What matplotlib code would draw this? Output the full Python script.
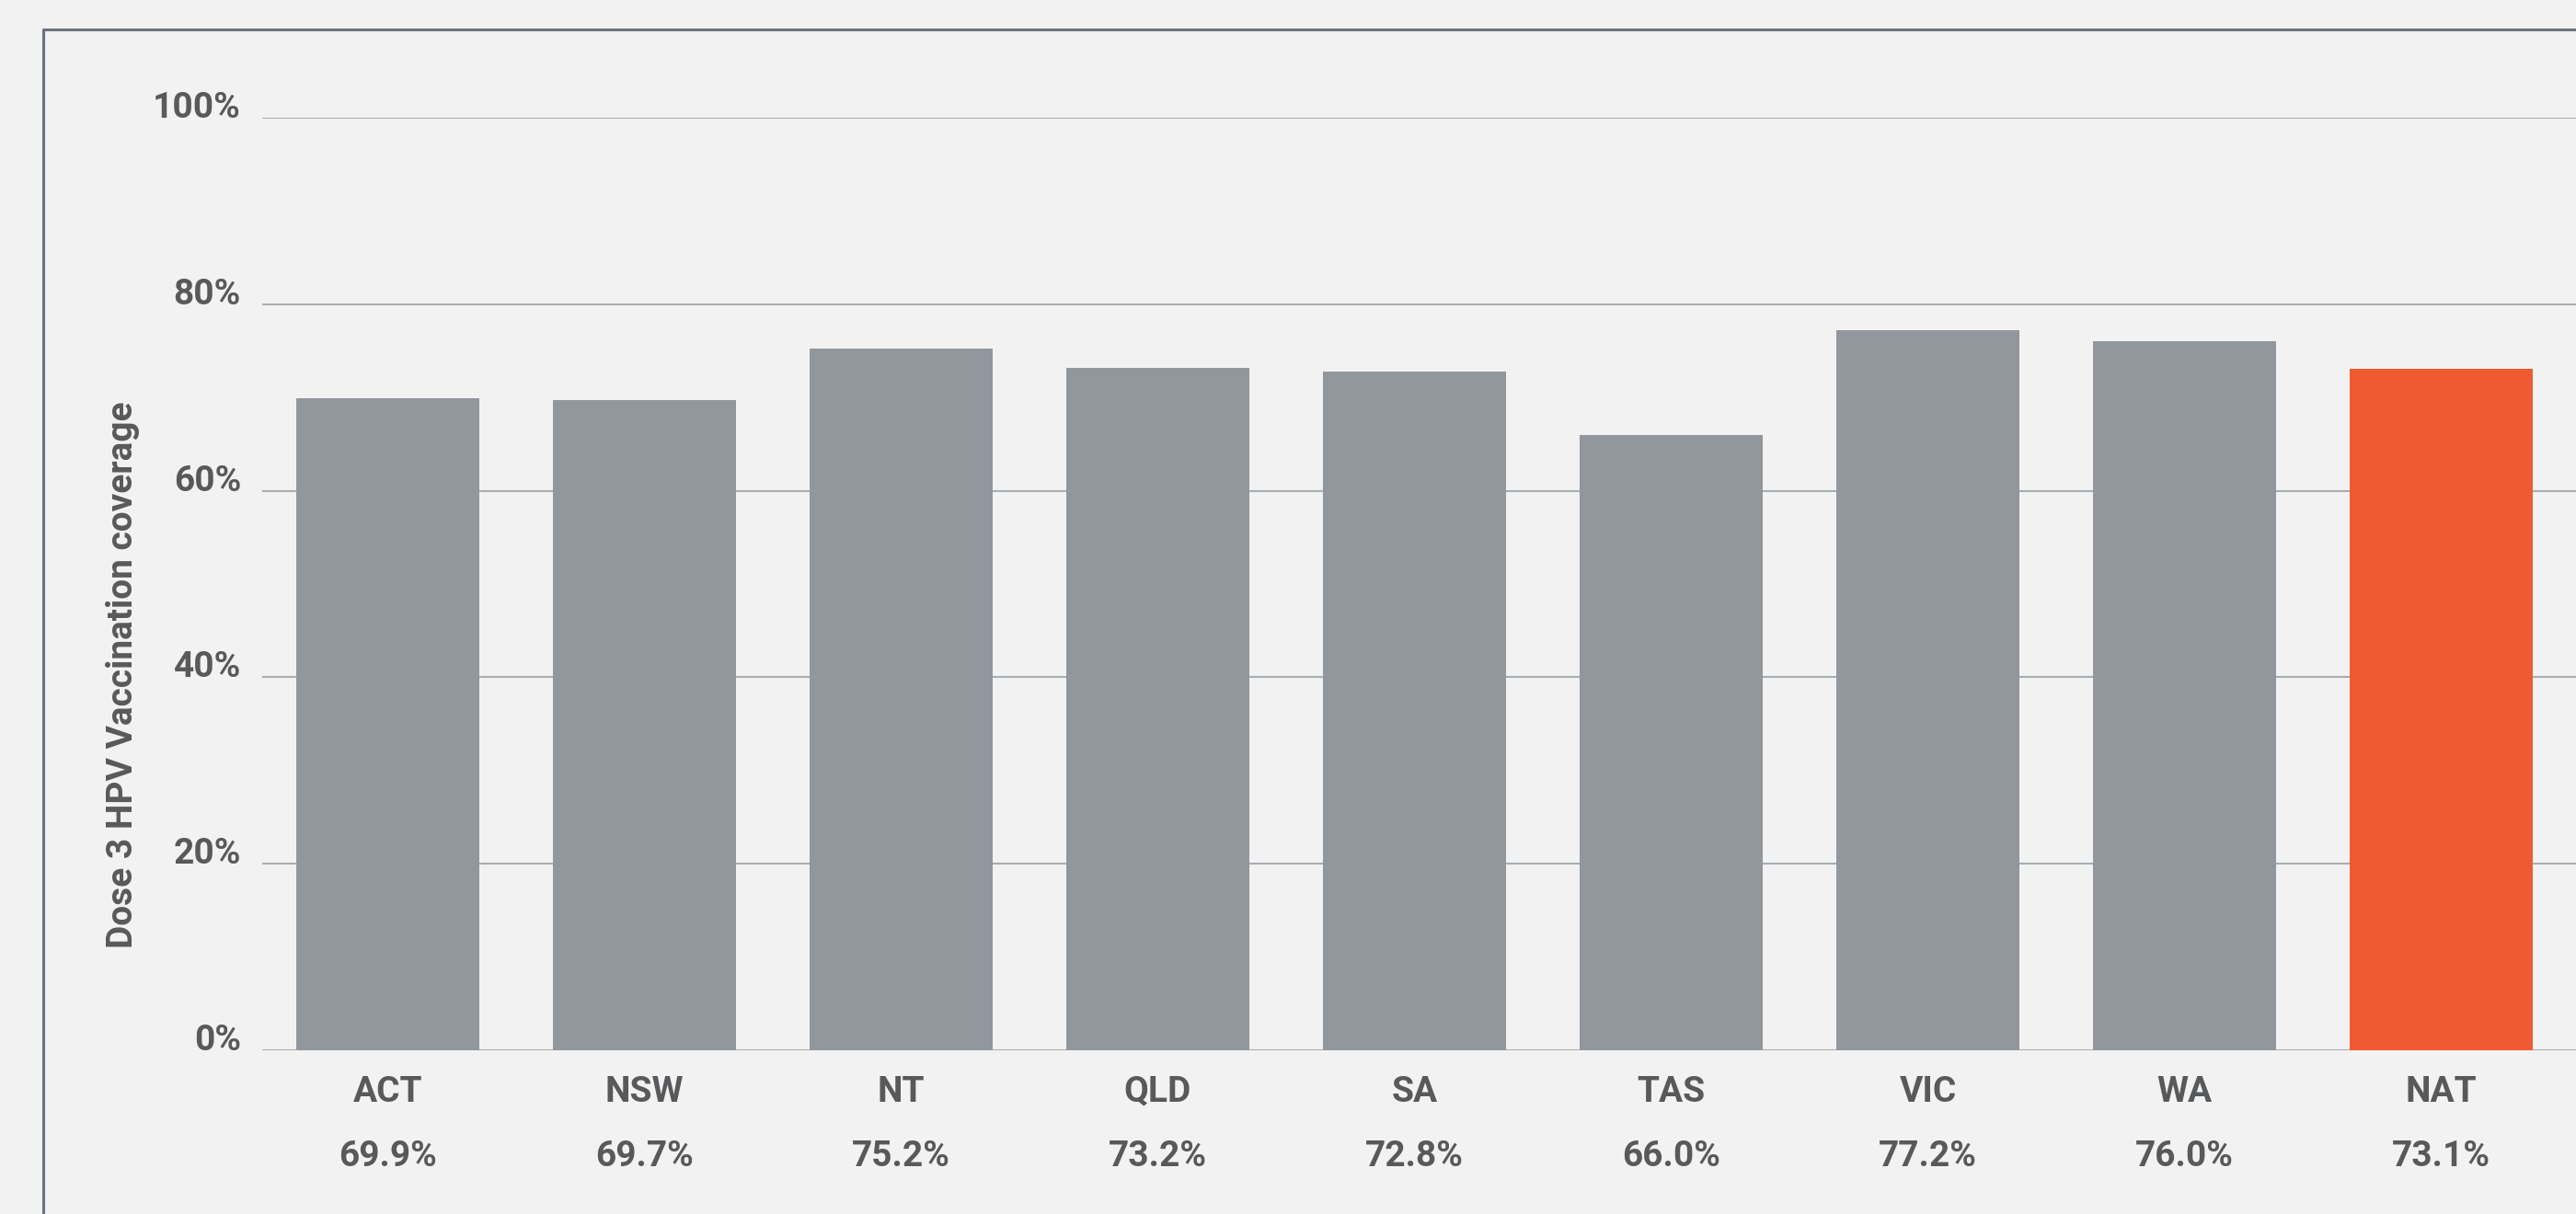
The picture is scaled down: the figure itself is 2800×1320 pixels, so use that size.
import matplotlib.pyplot as plt
from matplotlib.lines import Line2D

states = ["ACT", "NSW", "NT", "QLD", "SA", "TAS", "VIC", "WA", "NAT"]
coverage = [69.9, 69.7, 75.2, 73.2, 72.8, 66.0, 77.2, 76.0, 73.1]
yticks = [0, 20, 40, 60, 80, 100]

bg = "#f2f2f2"
grey_bar = "#92969d"
orange = "#f05a30"
grid_col = "#a9adb2"
text_col = "#58595b"
frame_col = "#6b747d"

plt.rcParams['font.family'] = ['Roboto', 'DejaVu Sans']

W, H, dpi = 2800, 1320, 200
fig = plt.figure(figsize=(W / dpi, H / dpi), dpi=dpi, facecolor=bg)

# plot area: 0% at y=1142px, 100% at y=128px, gridlines start at x=285px
ax = fig.add_axes([285 / W, 1 - 1142 / H, 1 - 285 / W, (1142 - 128) / H])
ax.set_facecolor(bg)

colors = [orange if s == "NAT" else grey_bar for s in states]
x = range(len(states))
ax.bar(x, coverage, width=0.713, color=colors, zorder=3)

ax.set_xlim(-0.489, 8.525)
ax.set_ylim(0, 100)
ax.set_yticks(yticks)
ax.set_yticklabels([f"{v}%" for v in yticks], fontsize=14, fontweight='bold',
                   color=text_col, va='baseline')
ax.tick_params(axis='y', length=0, pad=8.3)
ax.set_xticks([])
for v in yticks:
    ax.axhline(v, color=grid_col, lw=0.75, zorder=1)
for sp in ax.spines.values():
    sp.set_visible(False)

# category and value labels under the bars
tr = ax.get_xaxis_transform()
for i, (s, v) in enumerate(zip(states, coverage)):
    ax.text(i, -45 / 1014, s, transform=tr, ha='center', va='center',
            fontsize=14, fontweight='bold', color=text_col, clip_on=False)
    ax.text(i, -115 / 1014, f"{v:.1f}%", transform=tr, ha='center', va='center',
            fontsize=14, fontweight='bold', color=text_col, clip_on=False)

fig.text(134 / W, 1 - 734 / H, "Dose 3 HPV Vaccination coverage", rotation=90,
         ha='center', va='center', fontsize=14, fontweight='bold', color=text_col)

# outer frame (left and top edges)
fx, fy = 47 / W, 1 - 32 / H
fig.add_artist(Line2D([fx, fx, 1.0], [0, fy, fy], transform=fig.transFigure,
                      color=frame_col, lw=1.1))

fig.savefig("out.png", dpi=dpi, facecolor=bg)
